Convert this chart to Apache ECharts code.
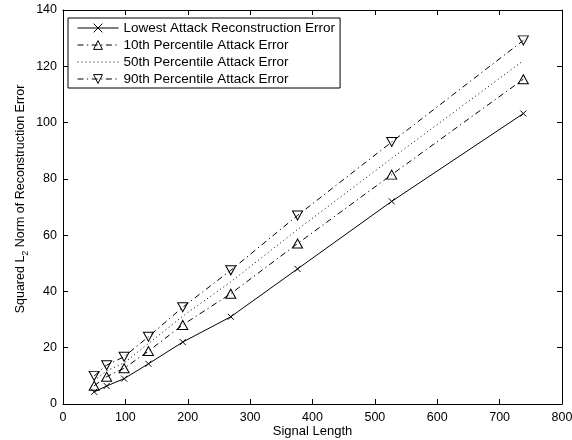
<!DOCTYPE html>
<html>
<head>
<meta charset="utf-8">
<script src="https://cdn.jsdelivr.net/npm/echarts@6/dist/echarts.min.js"></script>
<style>html,body{margin:0;padding:0;background:#fff}#c{width:572px;height:440px}</style>
</head>
<body>
<div id="c"></div>
<script>
const signalLength = [50, 70, 98, 137, 192, 269, 376, 527, 738];
const lowestErr = [4.3, 6.4, 9.0, 14.3, 22.0, 31.0, 48.0, 72.0, 103.2];
const p10Err = [6.5, 9.7, 12.7, 18.8, 28.1, 39.2, 57.0, 81.5, 115.4];
const p50Err = [8.3, 11.8, 14.6, 21.5, 31.2, 43.4, 62.0, 87.3, 122.0];
const p90Err = [10.0, 13.8, 16.8, 23.9, 34.4, 47.5, 67.0, 93.1, 129.2];
const seriesNames = ['Lowest Attack Reconstruction Error', '10th Percentile Attack Error', '50th Percentile Attack Error', '90th Percentile Attack Error'];
const xTicks = [0, 100, 200, 300, 400, 500, 600, 700, 800];
const yTicks = [0, 20, 40, 60, 80, 100, 120, 140];

const pairs = arr => signalLength.map((x, i) => [x, arr[i]]);
const font = '"Liberation Sans", Arial, Helvetica, sans-serif';
const axisCommon = {
  axisLine: {show: true, onZero: false, lineStyle: {color: '#000', width: 1}},
  axisTick: {show: true, inside: true, length: 5, lineStyle: {color: '#000'}},
  splitLine: {show: false}
};
const dashDot = [6, 3.5, 1.2, 3.5];
const mk = (name, data, lineType, symbol, size) => ({
  name, type: 'line', data: pairs(data),
  symbol: symbol, symbolSize: size,
  showSymbol: symbol !== 'none',
  lineStyle: {color: '#000', width: 1, type: lineType},
  itemStyle: {color: 'none', borderColor: '#000', borderWidth: 1},
  emphasis: {disabled: true},
  z: 3
});
const chart = echarts.init(document.getElementById('c'), null, {renderer: 'canvas'});
chart.setOption({
  animation: false,
  backgroundColor: '#fff',
  textStyle: {fontFamily: font},
  grid: {left: 63, right: 10, top: 10, bottom: 36, containLabel: false, outerBoundsMode: 'none'},
  legend: {
    orient: 'vertical', left: 68, top: 18,
    padding: [2, 5, 1, 9],
    itemWidth: 41, itemHeight: 11, itemGap: 1,
    borderColor: '#000', borderWidth: 1, backgroundColor: '#fff',
    lineStyle: {width: 1},
    itemStyle: {borderWidth: 1},
    textStyle: {fontFamily: font, fontSize: 13.5, color: '#000', lineHeight: 16},
    data: [
      {name: seriesNames[0]},
      {name: seriesNames[1]},
      {name: seriesNames[2], itemStyle: {color: 'none', borderColor: 'none', borderWidth: 0, opacity: 0}},
      {name: seriesNames[3]}
    ],
    selectedMode: false
  },
  xAxis: [
    Object.assign({}, axisCommon, {
      type: 'value', min: 0, max: 800, interval: 100, position: 'bottom',
      name: 'Signal Length', nameLocation: 'middle', nameGap: 21, nameMoveOverlap: false,
      nameTextStyle: {fontFamily: font, fontSize: 13, color: '#000'},
      axisLabel: {color: '#000', fontSize: 12.5, fontFamily: font, margin: 7,
        formatter: v => xTicks.includes(v) ? String(v) : ''}
    }),
    Object.assign({}, axisCommon, {
      type: 'value', min: 0, max: 800, interval: 100, position: 'top',
      axisLabel: {show: false}
    })
  ],
  yAxis: [
    Object.assign({}, axisCommon, {
      type: 'value', min: 0, max: 140, interval: 20, position: 'left',
      name: '{a|Squared L}{s|2}{a| Norm of Reconstruction Error}',
      nameLocation: 'middle', nameGap: 33, nameRotate: 90, nameMoveOverlap: false,
      nameTextStyle: {color: '#000', fontFamily: font, fontSize: 12.5, padding: [0, 0, 0, 16],
        rich: {a: {fontSize: 12.5, fontFamily: font, color: '#000'},
               s: {fontSize: 9, fontFamily: font, color: '#000', padding: [9, 0, 0, 0]}}},
      axisLabel: {color: '#000', fontSize: 12.5, fontFamily: font, margin: 6,
        formatter: v => yTicks.includes(v) ? String(v) : ''}
    }),
    Object.assign({}, axisCommon, {
      type: 'value', min: 0, max: 140, interval: 20, position: 'right',
      axisLabel: {show: false}
    })
  ],
  series: [
    mk(seriesNames[0], lowestErr, 'solid', 'path://M0,0L10,10M0,10L10,0', 6),
    mk(seriesNames[1], p10Err, dashDot, 'path://M5,0L10,9L0,9Z', [10, 9]),
    mk(seriesNames[2], p50Err, [1, 3], 'none', 0),
    mk(seriesNames[3], p90Err, dashDot, 'path://M0,0L10,0L5,9Z', [10, 9])
  ]
});
</script>
</body>
</html>
